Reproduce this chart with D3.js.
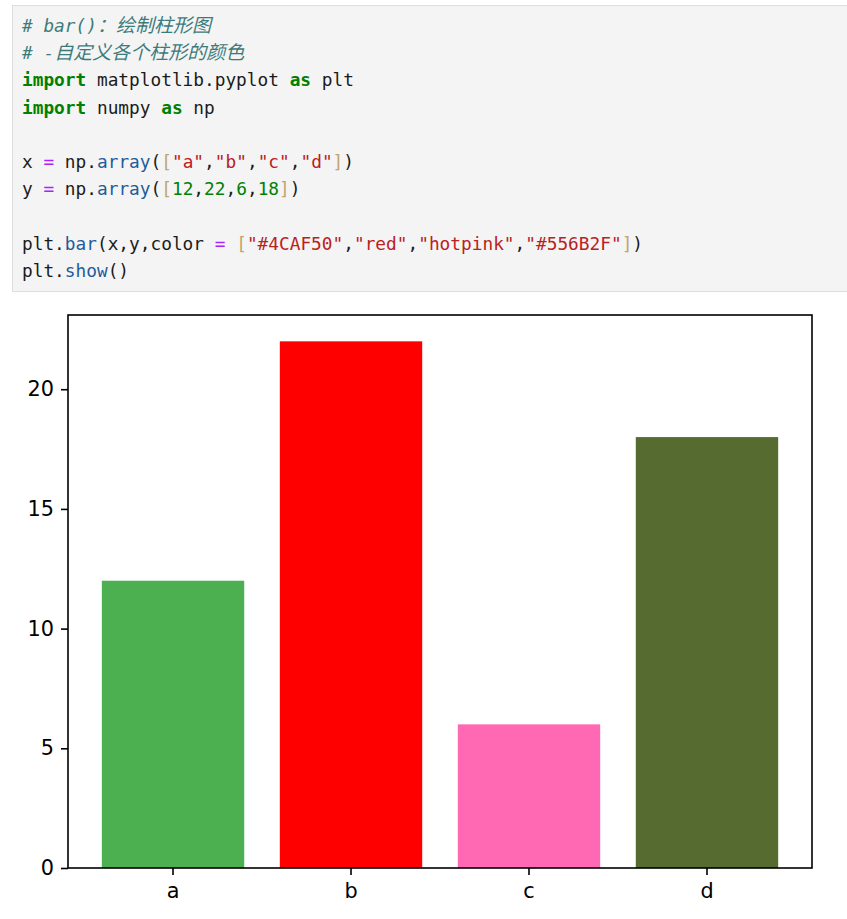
<!DOCTYPE html>
<html>
<head>
<meta charset="utf-8">
<script src="https://cdn.jsdelivr.net/npm/d3@7"></script>
<style>
  body { margin: 0; background: #fff; }
  svg { display: block; }
  .code text { font-family: "DejaVu Sans Mono", "Liberation Mono", monospace; font-size: 17.8px; }
  .tick text { font-family: "DejaVu Sans", sans-serif; font-size: 20.8px; fill: #000; }
</style>
</head>
<body>
<svg id="chart" width="847" height="919"></svg>
<script>

// data
let categories = ["a", "b", "c", "d"];
let values = [12, 22, 6, 18];
let barColors = ["#4CAF50", "red", "hotpink", "#556B2F"];
let yTicks = [0, 5, 10, 15, 20];

// code cell shown above the chart, as [text, token type]
let codeLines = [
  [["# bar()", "com"], ["：绘制柱形图", "comcjk"]],
  [["# -", "com"], ["自定义各个柱形的颜色", "comcjk"]],
  [["import", "kw"], [" matplotlib.pyplot ", "txt"], ["as", "kw"], [" plt", "txt"]],
  [["import", "kw"], [" numpy ", "txt"], ["as", "kw"], [" np", "txt"]],
  [],
  [["x ", "txt"], ["=", "op"], [" np.", "txt"], ["array", "fn"], ["(", "txt"], ["[", "br"],
   ["\"a\"", "str"], [",", "txt"], ["\"b\"", "str"], [",", "txt"], ["\"c\"", "str"], [",", "txt"], ["\"d\"", "str"],
   ["]", "br"], [")", "txt"]],
  [["y ", "txt"], ["=", "op"], [" np.", "txt"], ["array", "fn"], ["(", "txt"], ["[", "br"],
   ["12", "num"], [",", "txt"], ["22", "num"], [",", "txt"], ["6", "num"], [",", "txt"], ["18", "num"],
   ["]", "br"], [")", "txt"]],
  [],
  [["plt.", "txt"], ["bar", "fn"], ["(x,y,color ", "txt"], ["=", "op"], [" ", "txt"], ["[", "br"],
   ["\"#4CAF50\"", "str"], [",", "txt"], ["\"red\"", "str"], [",", "txt"], ["\"hotpink\"", "str"], [",", "txt"],
   ["\"#556B2F\"", "str"], ["]", "br"], [")", "txt"]],
  [["plt.", "txt"], ["show", "fn"], ["()", "txt"]]
];

const tokenStyle = {
  txt:    { fill: "#1b1b1b" },
  kw:     { fill: "#008000", weight: "bold" },
  op:     { fill: "#AA22FF" },
  fn:     { fill: "#1F5C99" },
  str:    { fill: "#BA2121" },
  num:    { fill: "#008000" },
  br:     { fill: "#BFA56E" },
  com:    { fill: "#3D7B7B", italic: true },
  comcjk: { fill: "#3D7B7B", italic: true, cjk: true }
};

let svg = d3.select("#chart");

//---------------- code cell ----------------
let code = svg.append("g").attr("class", "code");

code.append("rect")
  .attr("x", 12.5).attr("y", 5.5)
  .attr("width", 845).attr("height", 286)
  .attr("fill", "#f4f4f4")
  .attr("stroke", "#dedede");

codeLines.forEach(function(tokens, i) {
  if (tokens.length == 0) return;
  let t = code.append("text")
    .attr("x", 22)
    .attr("y", 32 + i * 27.2)
    .attr("xml:space", "preserve");
  tokens.forEach(function(tok) {
    let st = tokenStyle[tok[1]];
    let sp = t.append("tspan").text(tok[0]).attr("fill", st.fill);
    if (st.weight) sp.attr("font-weight", st.weight);
    if (st.italic) sp.attr("font-style", "italic");
    if (st.cjk) sp.attr("font-family", "'Noto Sans CJK SC', sans-serif").attr("font-size", "19px");
  });
});

//---------------- bar chart ----------------
let plot = { left: 68, right: 812, top: 315, bottom: 868 };

let x = d3.scaleBand()
  .domain(categories)
  .range([plot.left, plot.right])
  .paddingInner(0.2)
  .paddingOuter(0.19);

// matplotlib keeps 5% headroom above the tallest bar
let y = d3.scaleLinear()
  .domain([0, d3.max(values) * 1.05])
  .range([plot.bottom, plot.top]);

let g = svg.append("g");

g.selectAll(".bar")
  .data(values)
  .enter().append("rect")
  .attr("class", "bar")
  .attr("x", (d, i) => x(categories[i]))
  .attr("y", d => y(d))
  .attr("width", x.bandwidth())
  .attr("height", d => y(0) - y(d))
  .attr("fill", (d, i) => barColors[i]);

let yAxis = g.append("g")
  .attr("transform", "translate(" + plot.left + ",0)")
  .call(d3.axisLeft(y).tickValues(yTicks).tickSize(7).tickPadding(7));

let xAxis = g.append("g")
  .attr("transform", "translate(0," + plot.bottom + ")")
  .call(d3.axisBottom(x).tickSize(7).tickPadding(8));

[xAxis, yAxis].forEach(function(a) {
  a.select(".domain").remove();
  a.selectAll(".tick line").attr("stroke", "#000").attr("stroke-width", 1.6);
});

// frame round the plot area
g.append("rect")
  .attr("x", plot.left).attr("y", plot.top)
  .attr("width", plot.right - plot.left)
  .attr("height", plot.bottom - plot.top)
  .attr("fill", "none")
  .attr("stroke", "#000")
  .attr("stroke-width", 1.6);

</script>
</body>
</html>
